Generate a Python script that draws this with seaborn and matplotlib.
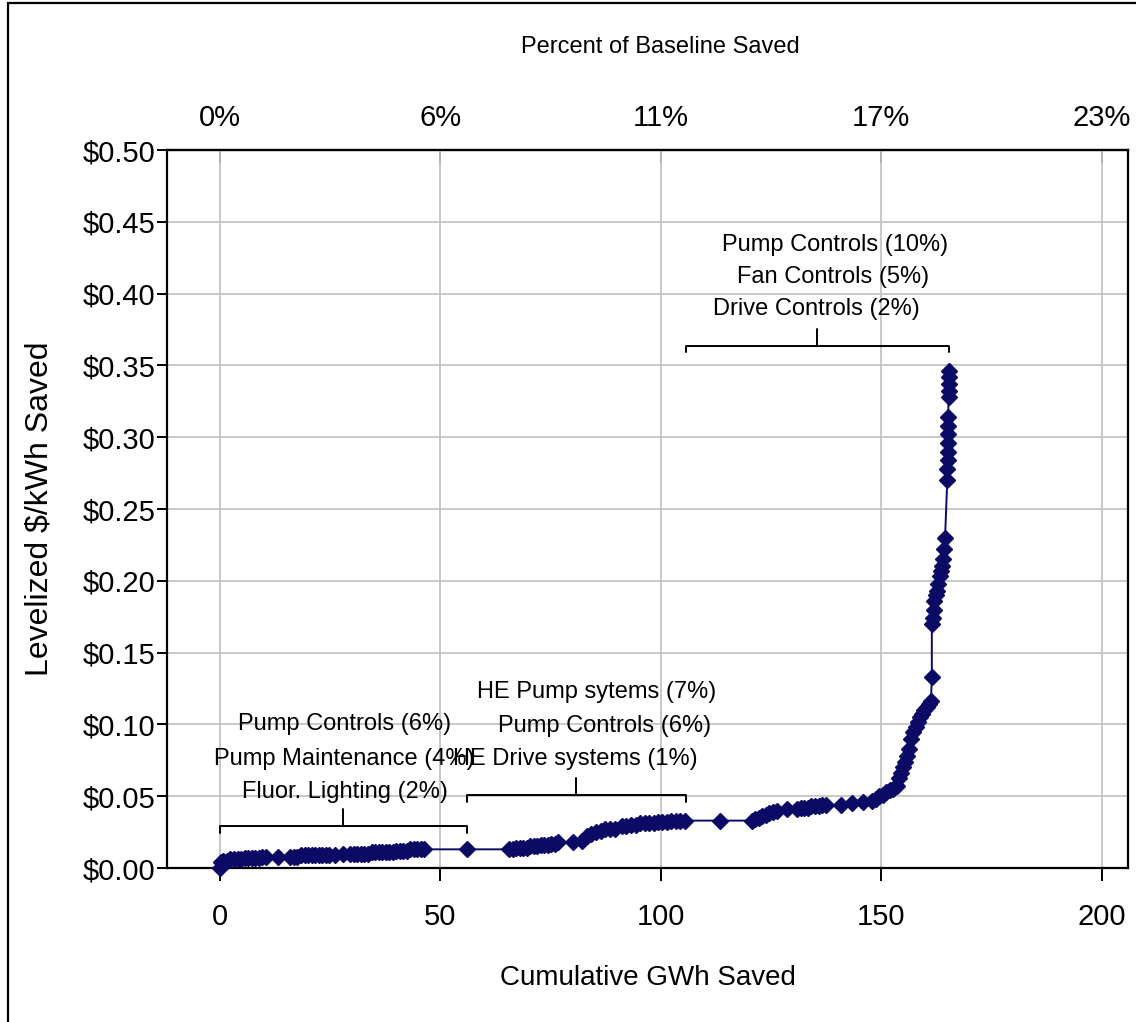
import matplotlib
matplotlib.use("Agg")
import matplotlib.pyplot as plt
import pandas as pd
import seaborn as sns
from matplotlib.patches import Rectangle

# supply curve in pieces (cumulative GWh, levelized $/kWh)
gwh_a = [0.0, 0.2, 0.8, 1.6, 2.4, 3.2, 4.0, 4.8, 5.6, 6.4, 7.2, 8.0, 8.8, 9.6, 10.4,
         13.2, 16.0, 16.8, 17.6, 18.4, 19.2, 20.0, 20.8, 21.6, 22.4, 23.2, 24.0, 24.8, 26.2,
         28.0, 29.6, 30.4, 31.2, 32.0, 32.8, 33.6, 34.4, 35.2, 36.0, 36.8, 37.6, 38.4, 39.2, 40.0, 40.8,
         41.6, 42.4, 43.2, 44.0, 44.8, 45.6, 46.4]
cost_a = [0.000, 0.004, 0.005, 0.005, 0.006, 0.006, 0.006, 0.006, 0.007, 0.007, 0.007, 0.007, 0.007, 0.008, 0.008,
          0.008, 0.008, 0.008, 0.008, 0.009, 0.009, 0.009, 0.009, 0.009, 0.009, 0.009, 0.009, 0.009, 0.009,
          0.010, 0.010, 0.010, 0.010, 0.010, 0.010, 0.010, 0.011, 0.011, 0.011, 0.011, 0.011, 0.011, 0.011, 0.012, 0.012,
          0.012, 0.012, 0.013, 0.013, 0.013, 0.013, 0.013]

gwh_b = [56.0, 65.6, 66.4, 67.2, 68.0, 68.8, 69.6, 70.4, 71.2, 72.0, 72.8, 73.6, 74.4, 75.2, 76.0, 76.8,
         80.0, 82.2, 83.2, 84.2, 85.4, 86.4, 87.4, 88.4, 89.6, 91.2, 92.2, 93.2, 94.4,
         95.4, 96.4, 97.4, 98.4, 99.4, 100.4, 101.4, 102.4, 103.4, 104.4, 105.4]
cost_b = [0.013, 0.013, 0.013, 0.014, 0.014, 0.014, 0.014, 0.015, 0.015, 0.015, 0.016, 0.016, 0.016, 0.017, 0.017, 0.018,
          0.018, 0.019, 0.022, 0.024, 0.025, 0.026, 0.027, 0.027, 0.027, 0.029, 0.029, 0.030, 0.030,
          0.031, 0.031, 0.031, 0.031, 0.032, 0.032, 0.032, 0.033, 0.033, 0.033, 0.033]

gwh_c = [113.4, 120.6, 121.4, 122.2, 123.0, 123.8, 124.6, 125.4, 126.4, 128.6,
         131.0, 131.8, 132.6, 133.4, 134.2, 135.0, 135.8, 136.6, 137.4, 141.0, 143.5, 145.8,
         148.0, 148.8, 149.6, 150.4, 151.2, 152.0, 152.8, 153.6]
cost_c = [0.033, 0.033, 0.034, 0.035, 0.036, 0.037, 0.038, 0.039, 0.040, 0.041,
          0.041, 0.042, 0.042, 0.042, 0.043, 0.043, 0.043, 0.044, 0.044, 0.044, 0.045, 0.046,
          0.047, 0.048, 0.050, 0.051, 0.053, 0.054, 0.055, 0.057]

gwh_d = [154.0, 154.4, 154.9, 155.4, 155.8, 156.3, 156.8, 157.3, 157.8, 158.3, 158.8, 159.3, 159.8, 160.3, 160.8, 161.3]
cost_d = [0.063, 0.066, 0.070, 0.074, 0.078, 0.083, 0.090, 0.095, 0.098, 0.102, 0.105, 0.107, 0.110, 0.112, 0.114, 0.116]

gwh_e = [161.5, 161.5, 161.7, 161.9, 162.1, 162.4, 162.7, 163.0, 163.3, 163.6, 163.9, 164.1, 164.3, 164.5,
         165.0, 165.0, 165.1, 165.1, 165.1, 165.2, 165.2, 165.2, 165.3, 165.3, 165.4, 165.4, 165.4]
cost_e = [0.133, 0.170, 0.174, 0.180, 0.186, 0.190, 0.193, 0.198, 0.203, 0.207, 0.210, 0.215, 0.222, 0.230,
          0.270, 0.278, 0.284, 0.290, 0.296, 0.302, 0.308, 0.314, 0.328, 0.332, 0.337, 0.342, 0.346]

top_ticks = [0, 50, 100, 150, 200]
top_labels = ["0%", "6%", "11%", "17%", "23%"]
bottom_ticks = [0, 50, 100, 150, 200]
y_ticks = [0.00, 0.05, 0.10, 0.15, 0.20, 0.25, 0.30, 0.35, 0.40, 0.45, 0.50]

# brackets over groups of measures
bracket_spans = [(0, 56), (56, 105.7), (105.7, 165.3)]
bracket_levels = [0.0292, 0.0508, 0.3635]
bracket_labels = [["Pump Controls (6%)", "Pump Maintenance (4%)", "Fluor. Lighting (2%)"],
                  ["HE Pump sytems (7%)", "Pump Controls (6%)", "HE Drive systems (1%)"],
                  ["Pump Controls (10%)", "Fan Controls (5%)", "Drive Controls (2%)"]]
label_x = [[28.3, 28.3, 28.3], [85.5, 87.3, 80.7], [139.5, 139.2, 135.4]]
label_y = [[0.1003, 0.0759, 0.0529], [0.1226, 0.0989, 0.0759], [0.4338, 0.4116, 0.3893]]

navy = "#0b0b66"

df = pd.DataFrame({"gwh": gwh_a + gwh_b + gwh_c + gwh_d + gwh_e,
                   "cost": cost_a + cost_b + cost_c + cost_d + cost_e})

sns.set_theme(style="white")
plt.rcParams["font.family"] = ["Liberation Sans", "DejaVu Sans"]
plt.rcParams["text.color"] = "black"
plt.rcParams["axes.labelcolor"] = "black"
plt.rcParams["xtick.color"] = "black"
plt.rcParams["ytick.color"] = "black"

fig = plt.figure(figsize=(11.36, 10.22), dpi=100)
W, H = 1136, 1022
ax = fig.add_axes([167 / W, 1 - 868 / H, (1128 - 167) / W, (868 - 150) / H])

sns.lineplot(data=df, x="gwh", y="cost", ax=ax, sort=False, estimator=None,
             color=navy, linewidth=1.4, marker="D", markersize=8,
             markeredgecolor=navy, markeredgewidth=1.0, clip_on=False, zorder=3)

ax.set_xlim(-12, 206)
ax.set_ylim(0, 0.5)
ax.set_xticks(bottom_ticks)
ax.set_yticks(y_ticks)
ax.set_yticklabels(["${:.2f}".format(v) for v in y_ticks])
ax.grid(True, color="#c4c4c4", linewidth=1.3)
ax.set_axisbelow(True)
for s in ax.spines.values():
    s.set_color("black")
    s.set_linewidth(1.6)
ax.tick_params(axis="x", direction="out", length=9, width=1.4, colors="black",
               labelsize=21, pad=16, bottom=True)
ax.tick_params(axis="y", direction="out", length=7, width=1.4, colors="black",
               labelsize=21, pad=1.5, left=True)

sec = ax.secondary_xaxis("top")
sec.set_xticks(top_ticks, labels=top_labels)
sec.tick_params(direction="in", length=9, width=1.4, colors="black", labelsize=21, pad=13)
sec.spines["top"].set_linewidth(1.6)

ax.set_xlabel("Cumulative GWh Saved", fontsize=20, color="black")
ax.xaxis.set_label_coords(0.5, (868 - 978) / 718)
ax.xaxis.label.set_va("center")
ax.set_ylabel("Levelized $/kWh Saved", fontsize=23, color="black")
ax.yaxis.set_label_coords((40 - 167) / 961, 0.5)
ax.yaxis.label.set_va("center")

fig.text(660 / W, 1 - 47 / H, "Percent of Baseline Saved", fontsize=17,
         ha="center", va="center", color="black")

for (x0, x1), lev, labs, lx, ly in zip(bracket_spans, bracket_levels,
                                       bracket_labels, label_x, label_y):
    xm = (x0 + x1) / 2
    ax.plot([x0, x0, x1, x1], [lev - 0.0045, lev, lev, lev - 0.0045],
            color="black", linewidth=1.4, zorder=2)
    ax.plot([xm, xm], [lev, lev + 0.012], color="black", linewidth=1.4, zorder=2)
    for t, tx, ty in zip(labs, lx, ly):
        ax.text(tx, ty, t, fontsize=17, ha="center", va="center", color="black", zorder=4)

# outer frame of the picture
fig.patches.append(Rectangle((8 / W, -0.5), 2, 0.5 + 1 - 3 / H, transform=fig.transFigure,
                             fill=False, edgecolor="black", linewidth=1.6))

fig.savefig("out.png", dpi=100)
